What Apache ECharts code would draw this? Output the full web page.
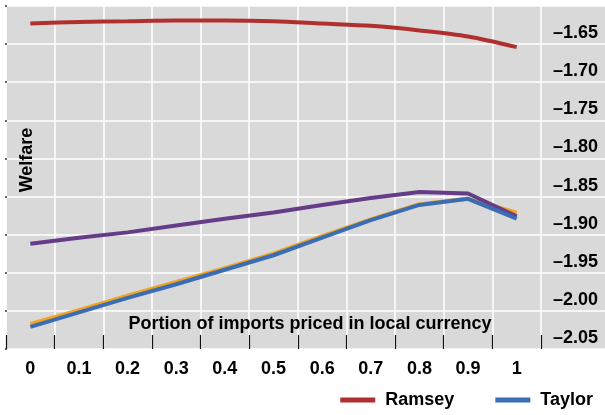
<!DOCTYPE html>
<html lang="en">

<head>
    <meta charset="UTF-8">
    <title>Welfare</title>
    <script src="https://cdn.jsdelivr.net/npm/echarts@6/dist/echarts.min.js"></script>
    <style>
        html, body {
            margin: 0;
            padding: 0;
            background: #fff;
        }

        #chart {
            width: 605px;
            height: 415px;
        }
    </style>
</head>

<body>
    <div id="chart"></div>

    <script>
        // portion of imports priced in local currency
        var categories = ['0', '0.1', '0.2', '0.3', '0.4', '0.5', '0.6', '0.7', '0.8', '0.9', '1'];
        // welfare
        var ramsey = [-1.623, -1.621, -1.620, -1.619, -1.619, -1.620, -1.623, -1.626, -1.632, -1.640, -1.654];
        var taylor = [-2.021, -2.002, -1.983, -1.965, -1.946, -1.927, -1.904, -1.881, -1.861, -1.853, -1.879];
        var orangeLine = [-2.017, -1.999, -1.980, -1.962, -1.944, -1.925, -1.902, -1.880, -1.860, -1.853, -1.871];
        var purpleLine = [-1.912, -1.904, -1.897, -1.888, -1.879, -1.871, -1.861, -1.852, -1.844, -1.846, -1.876];
        var yMin = -2.05, yMax = -1.60, yStep = 0.05;

        var font = '"Liberation Sans", Arial, sans-serif';
        var gray = '#d9d9d9';

        var myChart = echarts.init(document.getElementById('chart'));
        myChart.setOption({
            animation: false,
            grid: [
                // full gray panel, carries the value axis and its grid lines
                { left: 7, right: 0, top: 6, bottom: 66, show: true, backgroundColor: gray, borderWidth: 0 },
                // category area for the lines
                { left: 6, right: 64, top: 6, bottom: 66 }
            ],
            legend: {
                data: ['Ramsey', 'Taylor'],
                right: 12,
                top: 391,
                icon: 'rect',
                itemWidth: 35,
                itemHeight: 5,
                itemGap: 41,
                padding: 0,
                textStyle: {
                    fontFamily: font,
                    fontSize: 18,
                    fontWeight: 'bold',
                    color: '#000',
                    padding: [0, 0, 0, 5]
                }
            },
            xAxis: [
                {
                    gridIndex: 0,
                    type: 'value',
                    show: false
                },
                {
                    gridIndex: 1,
                    type: 'category',
                    data: categories,
                    boundaryGap: true,
                    axisLine: { show: false },
                    axisTick: {
                        show: true,
                        inside: true,
                        length: 14,
                        lineStyle: { color: '#111', width: 1.2 }
                    },
                    axisLabel: {
                        margin: 11,
                        fontFamily: font,
                        fontSize: 18,
                        fontWeight: 'bold',
                        color: '#000'
                    },
                    splitLine: {
                        show: true,
                        lineStyle: { color: '#fff', width: 1.5 }
                    }
                }
            ],
            yAxis: [
                {
                    gridIndex: 0,
                    type: 'value',
                    position: 'right',
                    min: yMin,
                    max: yMax,
                    interval: yStep,
                    axisLine: { show: false },
                    axisTick: { show: false },
                    axisLabel: {
                        inside: true,
                        margin: 7,
                        showMaxLabel: false,
                        verticalAlign: 'bottom',
                        padding: [0, 0, 2, 0],
                        fontFamily: font,
                        fontSize: 18,
                        fontWeight: 'bold',
                        color: '#000',
                        formatter: function (v) {
                            return v.toFixed(2).replace('-', '\u2013');
                        }
                    },
                    splitLine: {
                        show: true,
                        lineStyle: { color: '#fff', width: 1.5 }
                    }
                },
                {
                    // small tick marks on the left edge
                    gridIndex: 0,
                    type: 'value',
                    position: 'left',
                    min: yMin,
                    max: yMax,
                    interval: yStep,
                    axisLine: { show: false },
                    axisLabel: { show: false },
                    splitLine: { show: false },
                    axisTick: { show: true, length: 2, lineStyle: { color: '#333', width: 1.5 } }
                },
                {
                    gridIndex: 1,
                    type: 'value',
                    min: yMin,
                    max: yMax,
                    show: false
                }
            ],
            graphic: [
                {
                    type: 'text',
                    x: 27,
                    y: 160,
                    rotation: Math.PI / 2,
                    z: 100,
                    style: {
                        text: 'Welfare',
                        font: 'bold 18px ' + font,
                        fill: '#000',
                        textAlign: 'center',
                        textVerticalAlign: 'middle'
                    }
                },
                {
                    type: 'text',
                    x: 310,
                    y: 324,
                    z: 100,
                    style: {
                        text: 'Portion of imports priced in local currency',
                        font: 'bold 18px ' + font,
                        fill: '#000',
                        textAlign: 'center',
                        textVerticalAlign: 'middle'
                    }
                }
            ],
            series: [
                {
                    name: 'Ramsey',
                    type: 'line',
                    xAxisIndex: 1,
                    yAxisIndex: 2,
                    data: ramsey,
                    smooth: 0.3,
                    symbol: 'none',
                    itemStyle: { color: '#b03030' },
                    lineStyle: { color: '#b03030', width: 4 }
                },
                {
                    name: 'Orange',
                    type: 'line',
                    xAxisIndex: 1,
                    yAxisIndex: 2,
                    data: orangeLine,
                    symbol: 'none',
                    itemStyle: { color: '#f2a31f' },
                    lineStyle: { color: '#f2a31f', width: 4 }
                },
                {
                    name: 'Purple',
                    type: 'line',
                    xAxisIndex: 1,
                    yAxisIndex: 2,
                    data: purpleLine,
                    symbol: 'none',
                    itemStyle: { color: '#653c88' },
                    lineStyle: { color: '#653c88', width: 4 }
                },
                {
                    name: 'Taylor',
                    type: 'line',
                    xAxisIndex: 1,
                    yAxisIndex: 2,
                    data: taylor,
                    symbol: 'none',
                    itemStyle: { color: '#3a6db4' },
                    lineStyle: { color: '#3a6db4', width: 4 }
                }
            ]
        });
    </script>
</body>

</html>
